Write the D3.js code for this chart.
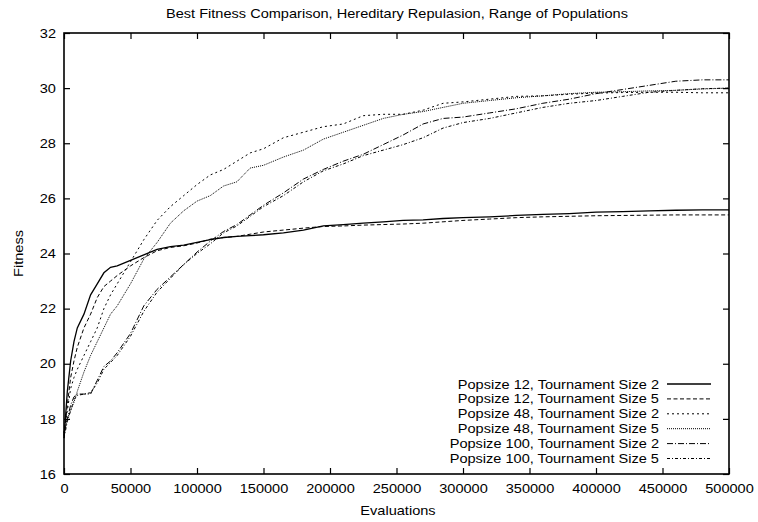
<!DOCTYPE html>
<html>
<head>
<meta charset="utf-8">
<script src="https://cdn.jsdelivr.net/npm/d3@7"></script>
<style>
  html, body { margin: 0; padding: 0; background: #fff; }
  svg { display: block; }
  text { font-family: "Liberation Sans", Arial, Helvetica, sans-serif; fill: #000; }
  /* the lettering is set slightly wide */
  .wide { transform-box: fill-box; transform: scaleX(1.12); }
  .wide-mid { transform-origin: 50% 50%; }
  .wide-end { transform-origin: 100% 50%; }
</style>
</head>
<body>
<svg id="chart" width="758" height="522"></svg>
<script>
// Evaluation counts at which the best fitness was sampled
const evaluations = [0, 2500, 5000, 7500, 10000, 15000, 20000, 25000, 30000, 35000, 40000,
  50000, 60000, 70000, 80000, 90000, 100000, 110000, 120000, 130000, 140000, 150000,
  165000, 180000, 195000, 210000, 225000, 240000, 255000, 270000, 285000, 300000,
  320000, 340000, 360000, 380000, 400000, 420000, 440000, 460000, 480000, 500000];

const pop12ts2 = [17.3, 19.0, 20.1, 20.8, 21.3, 21.8, 22.5, 22.9, 23.3, 23.5, 23.55,
  23.75, 23.95, 24.15, 24.25, 24.3, 24.4, 24.5, 24.58, 24.62, 24.65, 24.68,
  24.75, 24.85, 25.0, 25.05, 25.1, 25.15, 25.2, 25.22, 25.27, 25.3,
  25.33, 25.38, 25.42, 25.45, 25.5, 25.52, 25.55, 25.57, 25.58, 25.58];

const pop12ts5 = [17.4, 18.5, 19.5, 20.1, 20.6, 21.3, 21.8, 22.4, 22.8, 23.0, 23.2,
  23.55, 23.85, 24.1, 24.22, 24.28, 24.38, 24.52, 24.58, 24.62, 24.7, 24.78,
  24.85, 24.92, 24.98, 25.0, 25.03, 25.05, 25.07, 25.1, 25.15, 25.2,
  25.25, 25.3, 25.33, 25.35, 25.37, 25.38, 25.39, 25.4, 25.4, 25.4];

const pop48ts2 = [17.5, 18.3, 19.1, 19.5, 19.8, 20.3, 20.8, 21.3, 22.0, 22.5, 22.9,
  23.7, 24.5, 25.2, 25.7, 26.1, 26.5, 26.85, 27.05, 27.35, 27.65, 27.8,
  28.2, 28.4, 28.6, 28.7, 29.0, 29.05, 29.05, 29.2, 29.45, 29.5,
  29.6, 29.7, 29.72, 29.78, 29.82, 29.84, 29.85, 29.85, 29.83, 29.83];

const pop48ts5 = [17.4, 18.0, 18.3, 18.6, 19.0, 19.7, 20.3, 20.8, 21.3, 21.8, 22.1,
  22.9, 23.8, 24.4, 25.1, 25.55, 25.9, 26.1, 26.45, 26.6, 27.1, 27.2,
  27.5, 27.75, 28.15, 28.4, 28.65, 28.9, 29.05, 29.15, 29.3, 29.45,
  29.55, 29.65, 29.72, 29.8, 29.85, 29.87, 29.9, 29.92, 29.97, 30.0];

const pop100ts2 = [17.5, 18.0, 18.5, 18.8, 18.9, 18.9, 18.9, 19.4, 19.9, 20.1, 20.4,
  21.1, 22.1, 22.7, 23.15, 23.6, 24.05, 24.45, 24.8, 25.05, 25.4, 25.75,
  26.2, 26.7, 27.05, 27.35, 27.6, 27.95, 28.3, 28.7, 28.9, 28.95,
  29.1, 29.25, 29.45, 29.6, 29.8, 29.95, 30.1, 30.25, 30.3, 30.3];

const pop100ts5 = [17.3, 17.9, 18.3, 18.7, 18.85, 18.9, 18.95, 19.3, 19.8, 20.05, 20.3,
  21.0, 21.9, 22.6, 23.1, 23.6, 24.0, 24.35, 24.75, 25.0, 25.35, 25.7,
  26.1, 26.6, 27.0, 27.25, 27.55, 27.75, 27.95, 28.2, 28.55, 28.75,
  28.9, 29.1, 29.3, 29.45, 29.55, 29.7, 29.85, 29.92, 29.98, 30.0];

const seriesNames = [
  "Popsize 12, Tournament Size 2",
  "Popsize 12, Tournament Size 5",
  "Popsize 48, Tournament Size 2",
  "Popsize 48, Tournament Size 5",
  "Popsize 100, Tournament Size 2",
  "Popsize 100, Tournament Size 5"
];
const seriesValues = [pop12ts2, pop12ts5, pop48ts2, pop48ts5, pop100ts2, pop100ts5];
const dashPatterns = [null, "4,2.5", "2,3", "1,1", "6,2,1,2", "3,2,1,2"];

const xTicks = [0, 50000, 100000, 150000, 200000, 250000, 300000, 350000, 400000, 450000, 500000];
const yTicks = [16, 18, 20, 22, 24, 26, 28, 30, 32];

const titleText = "Best Fitness Comparison, Hereditary Repulasion, Range of Populations";
const xLabel = "Evaluations";
const yLabel = "Fitness";

const svg = d3.select("#chart");
const m = { left: 64, right: 729, top: 33, bottom: 474 };

const x = d3.scaleLinear().domain([0, 500000]).range([m.left, m.right]);
const y = d3.scaleLinear().domain([16, 32]).range([m.bottom, m.top]);

const fontSize = 13;
const tickLen = 6;

// Inward ticks on all four sides
const axes = svg.append("g");
const gx = axes.append("g").attr("transform", `translate(0,${m.bottom})`)
  .call(d3.axisBottom(x).tickValues(xTicks).tickSize(-tickLen).tickPadding(10).tickFormat(d3.format("d")));
axes.append("g").attr("transform", `translate(0,${m.top})`)
  .call(d3.axisTop(x).tickValues(xTicks).tickSize(-tickLen).tickFormat(""));
const gy = axes.append("g").attr("transform", `translate(${m.left},0)`)
  .call(d3.axisLeft(y).tickValues(yTicks).tickSize(-tickLen).tickPadding(8).tickFormat(d3.format("d")));
axes.append("g").attr("transform", `translate(${m.right},0)`)
  .call(d3.axisRight(y).tickValues(yTicks).tickSize(-tickLen).tickFormat(""));
axes.selectAll(".domain").remove();
axes.selectAll(".tick line").attr("stroke", "#000").attr("stroke-width", 1.2);
axes.selectAll(".tick text").attr("font-size", fontSize)
  .attr("font-family", "'Liberation Sans', Arial, Helvetica, sans-serif").attr("fill", "#000");
gx.selectAll(".tick text").attr("class", "wide wide-mid");
gy.selectAll(".tick text").attr("class", "wide wide-end");

// Plot frame
svg.append("rect")
  .attr("x", m.left).attr("y", m.top)
  .attr("width", m.right - m.left).attr("height", m.bottom - m.top)
  .attr("fill", "none").attr("stroke", "#000").attr("stroke-width", 1.6);

// Curves
const line = d3.line()
  .x((d, i) => x(evaluations[i]))
  .y(d => y(d));

const lines = svg.append("g");
seriesValues.forEach((vals, k) => {
  lines.append("path")
    .datum(vals)
    .attr("d", line)
    .attr("fill", "none")
    .attr("stroke", "#000")
    .attr("stroke-width", k === 0 ? 1.3 : 1)
    .attr("stroke-dasharray", dashPatterns[k]);
});

// Legend
const legend = svg.append("g");
seriesNames.forEach((name, k) => {
  const ly = 384 + k * 14.9;
  legend.append("text")
    .attr("class", "wide wide-end")
    .attr("x", 659).attr("y", ly)
    .attr("dy", "0.35em")
    .attr("text-anchor", "end")
    .attr("font-size", fontSize)
    .text(name);
  legend.append("line")
    .attr("x1", 667).attr("x2", 711)
    .attr("y1", ly).attr("y2", ly)
    .attr("stroke", "#000")
    .attr("stroke-width", k === 0 ? 1.3 : 1)
    .attr("stroke-dasharray", dashPatterns[k]);
});

// Title and axis labels
svg.append("text")
  .attr("class", "wide wide-mid")
  .attr("x", 397).attr("y", 13)
  .attr("dy", "0.35em").attr("text-anchor", "middle")
  .attr("font-size", fontSize).text(titleText);
svg.append("text")
  .attr("class", "wide wide-mid")
  .attr("x", 398).attr("y", 510)
  .attr("dy", "0.35em").attr("text-anchor", "middle")
  .attr("font-size", fontSize).text(xLabel);
svg.append("text")
  .attr("transform", `translate(18,${(m.top + m.bottom) / 2}) rotate(-90) scale(1.12,1)`)
  .attr("dy", "0.35em").attr("text-anchor", "middle")
  .attr("font-size", fontSize).text(yLabel);
</script>
</body>
</html>
